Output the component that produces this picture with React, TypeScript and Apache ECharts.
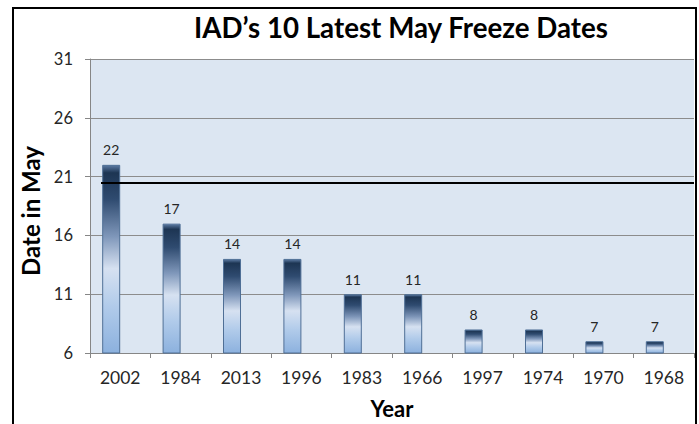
import React, { useEffect, useRef } from "react";
import * as echarts from "echarts";

const years = ["2002", "1984", "2013", "1996", "1983", "1966", "1997", "1974", "1970", "1968"];
const freezeDay = [22, 17, 14, 14, 11, 11, 8, 8, 7, 7];
const yTicks = { min: 6, max: 31, interval: 5 };
const referenceDay = 20.5;

export default function App() {
  const ref = useRef<HTMLDivElement>(null);
  useEffect(() => {
    if (!ref.current) return;
    const chart = echarts.init(ref.current, null, { renderer: "svg" });
    const font = "Lato";
    chart.setOption({
      animation: false,
      backgroundColor: "#ffffff",
      textStyle: { fontFamily: font },
      graphic: [
        {
          type: "rect",
          z: -10,
          silent: true,
          shape: { x: 13, y: 8, width: 683, height: 440 },
          style: { fill: "#ffffff", stroke: "#000000", lineWidth: 2 },
        },
      ],
      title: {
        text: "IAD\u2019s 10 Latest May Freeze Dates",
        left: 396,
        top: 8,
        textAlign: "center",
        textStyle: { fontFamily: font, fontSize: 27.7, fontWeight: "bold", color: "#000" },
      },
      grid: {
        left: 90,
        right: 5,
        top: 59,
        bottom: 71,
        show: true,
        backgroundColor: "#dce6f2",
        borderWidth: 0,
      },
      xAxis: {
        type: "category",
        data: years,
        name: "Year",
        nameLocation: "middle",
        nameGap: 44,
        nameTextStyle: { fontFamily: font, fontSize: 22, fontWeight: "bold", color: "#000" },
        axisLine: { lineStyle: { color: "#868686", width: 1 } },
        axisTick: { show: true, length: 5, lineStyle: { color: "#868686" } },
        axisLabel: { fontFamily: font, fontSize: 17.5, color: "#262626", margin: 15 },
      },
      yAxis: {
        type: "value",
        min: yTicks.min,
        max: yTicks.max,
        interval: yTicks.interval,
        name: "Date in May",
        nameLocation: "middle",
        nameGap: 46,
        nameTextStyle: {
          fontFamily: font,
          fontSize: 24,
          fontWeight: "bold",
          color: "#000",
          padding: [0, 10, 0, 0],
        },
        axisLine: { show: true, lineStyle: { color: "#868686", width: 1 } },
        axisTick: { show: true, length: 5, lineStyle: { color: "#868686" } },
        axisLabel: { fontFamily: font, fontSize: 16.5, color: "#262626", margin: 17 },
        splitLine: { show: true, lineStyle: { color: "#8c8c8c", width: 1 } },
      },
      series: [
        {
          type: "bar",
          data: freezeDay,
          barWidth: 18,
          barGap: "0%",
          itemStyle: {
            borderColor: "#4f6f96",
            borderWidth: 1,
            color: {
              type: "linear",
              x: 0,
              y: 0,
              x2: 0,
              y2: 1,
              colorStops: [
                { offset: 0, color: "#5b7aa3" },
                { offset: 0.04, color: "#1d3553" },
                { offset: 0.18, color: "#2f4b70" },
                { offset: 0.38, color: "#7f97ba" },
                { offset: 0.55, color: "#d6e1f1" },
                { offset: 0.75, color: "#b1cbea" },
                { offset: 1, color: "#8cb1de" },
              ],
            },
          },
          label: {
            show: true,
            position: "top",
            distance: 8,
            fontFamily: font,
            fontSize: 14,
            color: "#262626",
          },
          markLine: {
            silent: true,
            symbol: ["none", "none"],
            label: { show: false },
            lineStyle: { color: "#000", width: 2, type: "solid" },
            data: [
              [
                { xAxis: years[0], yAxis: referenceDay, x: 101 },
                { xAxis: years[years.length - 1], yAxis: referenceDay, x: 694 },
              ],
            ],
          },
        },
        {
          type: "bar",
          data: [],
          barWidth: 18,
          silent: true,
        },
      ],
    });
    return () => chart.dispose();
  }, []);
  return (
    <div
      ref={ref}
      style={{ position: "fixed", left: 0, top: 0, width: 699, height: 424 }}
    />
  );
}
